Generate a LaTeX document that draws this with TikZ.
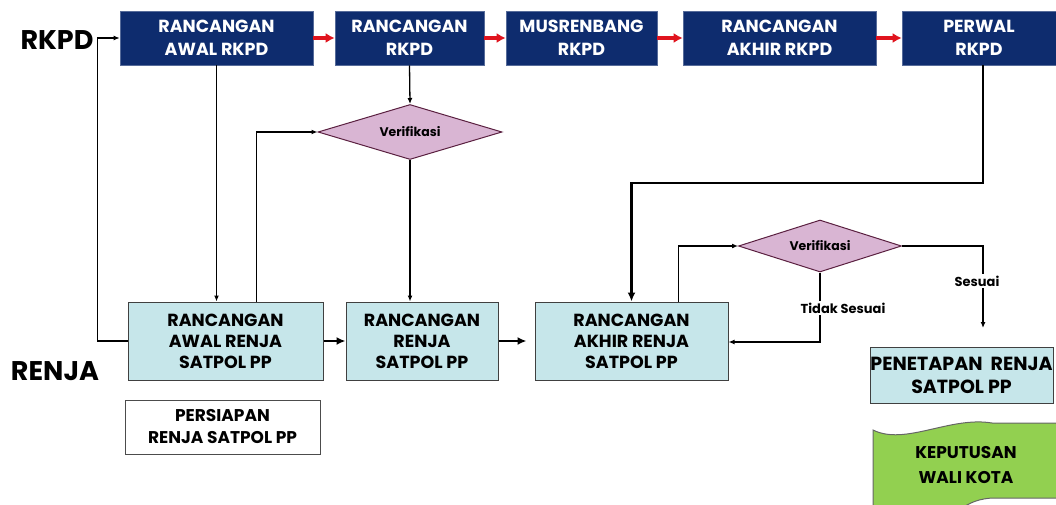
\documentclass[tikz,border=0pt]{standalone}
\usepackage{fontspec}
\setmainfont{Poppins}
\usetikzlibrary{shapes.geometric,arrows.meta}
\definecolor{navy}{HTML}{0E2C6E}
\definecolor{lblue}{HTML}{C6E6EA}
\definecolor{vfill}{HTML}{D9B5D3}
\definecolor{vdraw}{HTML}{5A2040}
\definecolor{kgreen}{HTML}{92D050}
\definecolor{rarrow}{HTML}{E0141E}
\tikzset{
  topbox/.style={draw=navy!70, fill=navy, text=white, font=\bfseries\fontsize{17.5}{23}\selectfont, align=center, inner sep=0pt, line width=0.6},
  renjabox/.style={draw=black!75, fill=lblue, font=\bfseries\fontsize{17.5}{21}\selectfont, align=center, inner sep=0pt, line width=1},
  verif/.style={diamond, draw=vdraw, fill=vfill, aspect=3.3, inner sep=0pt, font=\bfseries\fontsize{12.5}{14}\selectfont, line width=1},
  lbl/.style={fill=white, font=\bfseries\fontsize{13}{15}\selectfont, inner sep=2pt},
  conn/.style={draw=black, line width=1.3, -{Latex[length=6,width=5]}},
  thick/.style={draw=black, line width=2.8, -{Latex[length=9,width=8]}},
  redarr/.style={draw=rarrow, line width=3.2, -{Latex[length=9,width=10]}},
  big/.style={font=\bfseries\fontsize{27}{30}\selectfont}
}
\begin{document}
\begin{tikzpicture}[x=1pt,y=-1pt]
\useasboundingbox (0,0) rectangle (1056,505);
% labels
\node[big] (lrkpd) at (57,40) {RKPD};
\node[big] (lrenja) at (55,371) {RENJA};
% top row
\node[topbox, minimum width=193, minimum height=54] (b1) at (216.5,38) {RANCANGAN\\AWAL RKPD};
\node[topbox, minimum width=149, minimum height=54] (b2) at (409.5,38) {RANCANGAN\\RKPD};
\node[topbox, minimum width=151, minimum height=54] (b3) at (581.5,38) {MUSRENBANG\\RKPD};
\node[topbox, minimum width=193, minimum height=54] (b4) at (779.5,38) {RANCANGAN\\AKHIR RKPD};
\node[topbox, minimum width=154, minimum height=54] (b5) at (979,38) {PERWAL\\RKPD};
% renja row
\node[renjabox, minimum width=195, minimum height=78] (ra) at (225.5,341) {RANCANGAN\\AWAL RENJA\\SATPOL PP};
\node[renjabox, minimum width=152, minimum height=78] (rr) at (422,341) {RANCANGAN\\RENJA\\SATPOL PP};
\node[renjabox, minimum width=193, minimum height=78] (ak) at (631.5,341) {RANCANGAN\\AKHIR RENJA\\SATPOL PP};
\node[renjabox, minimum width=183, minimum height=56, font=\bfseries\fontsize{19}{23}\selectfont] (pn) at (961.5,375) {PENETAPAN\ \ RENJA\\SATPOL PP};
\node[draw=black!70, fill=white, line width=1, minimum width=195, minimum height=54, inner sep=0pt, align=center, font=\bfseries\fontsize{17}{22}\selectfont] (ps) at (222.5,427) {PERSIAPAN\\RENJA SATPOL PP};
% verifikasi
\node[verif, minimum width=184, minimum height=55] (v1) at (410,132) {Verifikasi};
\node[verif, minimum width=163, minimum height=52] (v2) at (820,246) {Verifikasi};
% keputusan
\path[draw=black!60, fill=kgreen, line width=1]
  (873,430) .. controls (905,446) and (950,416) .. (992,423) -- (1060,423) -- (1060,498)
  -- (995,498) .. controls (980,498) and (968,503) .. (960,510) -- (873,510) -- cycle;
\node[font=\bfseries\fontsize{17}{25}\selectfont, align=center] (kp) at (966,465) {KEPUTUSAN\\WALI KOTA};
% red arrows
\draw[redarr] (b1.east) -- (b2.west);
\draw[redarr] (b2.east) -- (b3.west);
\draw[redarr] (b3.east) -- (b4.west);
\draw[redarr] (b4.east) -- (b5.west);
% connectors
\draw[conn] (ra.west) -- ++(-30,0) |- (b1.west);
\draw[conn] (b1.south) -- (b1.south |- ra.north);
\draw[conn] ([xshift=31]ra.north) |- (v1.west);
\draw[conn] (b2.south) -- (v1.north);
\draw[conn] (v1.south) -- (v1.south |- rr.north);
\draw[thick] (ra.east) -- (rr.west);
\draw[thick, shorten >=8] (rr.east) -- (ak.west);
\coordinate (pw) at ([xshift=4]b5.south);
\coordinate (pwb) at (983,183);
\draw[thick] (pw) -- (pwb) -| (ak.north);
\draw[conn] ([xshift=47]ak.north) |- (v2.west);
\coordinate (ss) at (983,328);
\draw[conn] (v2.east) -| (ss);
\coordinate (ts) at (820,342);
\draw[conn] (v2.south) -- (ts) -- (ak.east |- ts);
\node[lbl] (lss) at (977,281) {Sesuai};
\node[lbl] (lts) at (843,308) {Tidak Sesuai};
\end{tikzpicture}
\end{document}
